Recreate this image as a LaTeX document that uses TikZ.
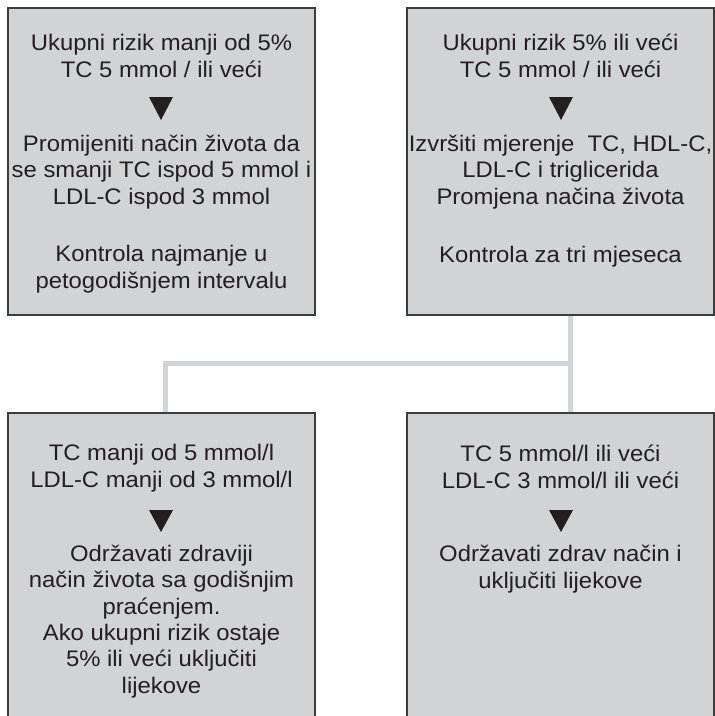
\documentclass[tikz,border=0pt]{standalone}
\usepackage{fontspec}
\setmainfont{Liberation Sans}[FakeStretch=1.06]
\usetikzlibrary{calc,backgrounds}
\definecolor{boxfill}{HTML}{D1D3D4}
\definecolor{boxline}{HTML}{3C3C3C}
\definecolor{txt}{HTML}{231F20}
\begin{document}
\begin{tikzpicture}[x=1pt,y=-1pt,
  box/.style={draw=boxline, line width=1.5pt, fill=boxfill, inner sep=0pt, outer sep=0pt, minimum width=307pt},
  txtnode/.style={anchor=base, align=center, inner sep=0pt, text=txt, font=\fontsize{22.5}{26.3}\selectfont},
  conn/.style={draw=boxfill, line width=5pt},
  tri/.style={fill=txt}]
\useasboundingbox (0,0) rectangle (715,716);
% boxes
\node[box, minimum height=307pt] (tl) at (161.5,161.5) {};
\node[box, minimum height=307pt] (tr) at (560.5,161.5) {};
\node[box, minimum height=317pt] (bl) at (161.5,571.5) {};
\node[box, minimum height=317pt] (br) at (560.5,571.5) {};
% connectors
\begin{scope}[on background layer]
\coordinate (j) at ($(tr.south)+(10,48)$);
\draw[conn] ([xshift=10pt]tr.south) -- ([xshift=10pt]br.north);
\draw[conn] (j) -| ([xshift=3.5pt]bl.north);
\end{scope}
% texts (base anchor = baseline of the last line)
\node[txtnode] (tl1) at (161.5,77) {Ukupni rizik manji od 5\%\\TC 5 mmol / ili veći};
\node[txtnode] (tl2) at (161.5,204) {Promijeniti način života da\\se smanji TC ispod 5 mmol i\\LDL-C ispod 3 mmol};
\node[txtnode] (tl3) at (161.5,288) {Kontrola najmanje u\\petogodišnjem intervalu};
\node[txtnode] (tr1) at (560.5,77) {Ukupni rizik 5\% ili veći\\TC 5 mmol / ili veći};
\node[txtnode] (tr2) at (560.5,204) {Izvršiti mjerenje\ \ TC, HDL-C,\\LDL-C i triglicerida\\Promjena načina života};
\node[txtnode] (tr3) at (560.5,262) {Kontrola za tri mjeseca};
\node[txtnode] (bl1) at (161.5,487) {TC manji od 5 mmol/l\\LDL-C manji od 3 mmol/l};
\node[txtnode] (bl2) at (161.5,693) {Održavati zdraviji\\način života sa godišnjim\\praćenjem.\\Ako ukupni rizik ostaje\\5\% ili veći uključiti\\lijekove};
\node[txtnode] (br1) at (560.5,488) {TC 5 mmol/l ili veći\\LDL-C 3 mmol/l ili veći};
\node[txtnode] (br2) at (560.5,588) {Održavati zdrav način i\\uključiti lijekove};
% triangles
\fill[tri] (149,97) -- (173,97) -- (161,120) -- cycle;
\fill[tri] (549,97) -- (573,97) -- (561,120) -- cycle;
\fill[tri] (149,510) -- (173,510) -- (161,532) -- cycle;
\fill[tri] (549,510) -- (573,510) -- (561,532) -- cycle;
\end{tikzpicture}
\end{document}
